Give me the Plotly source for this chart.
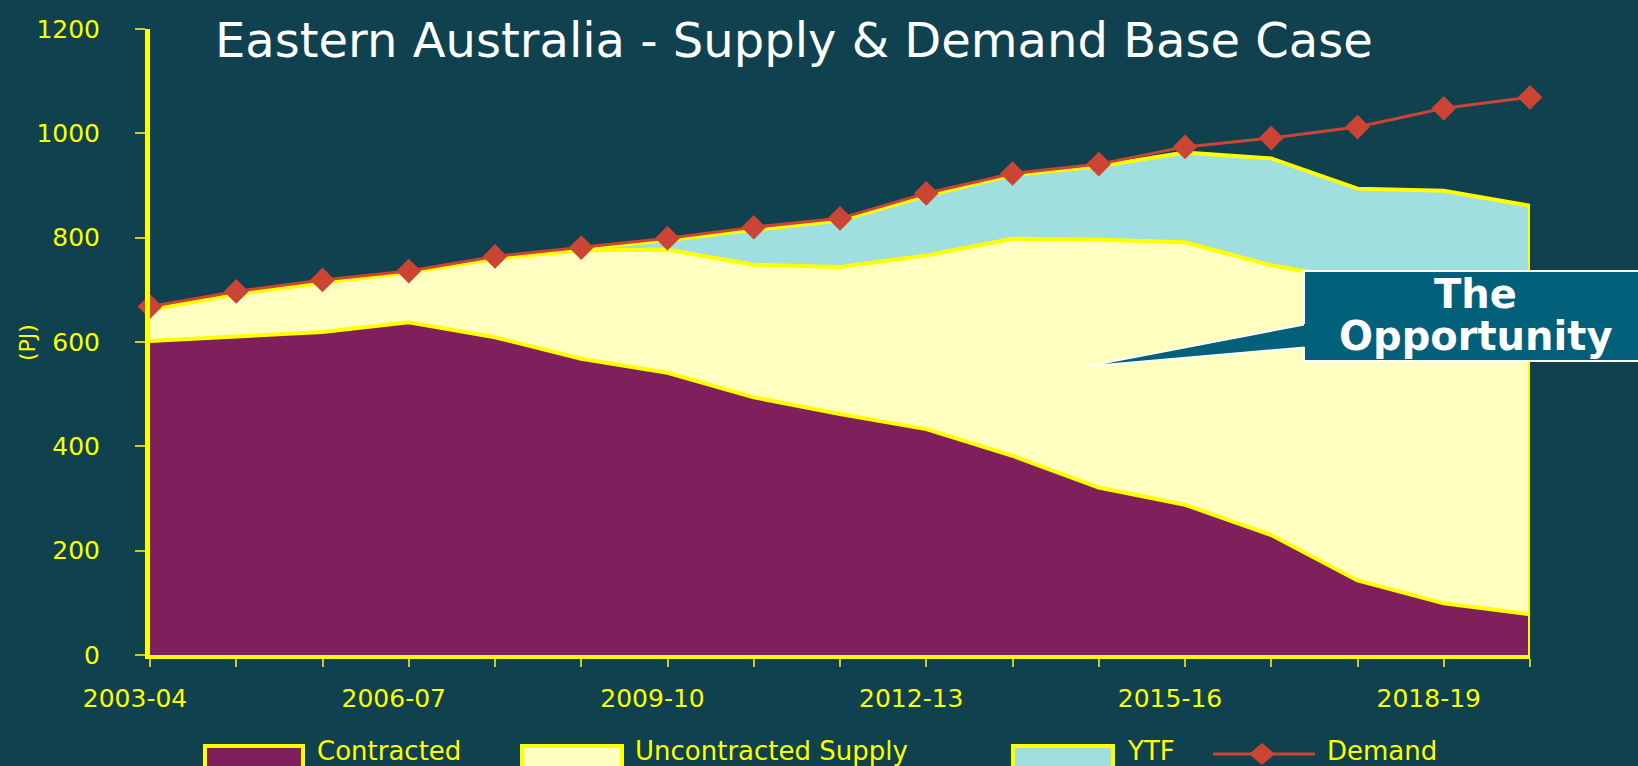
import plotly.graph_objects as go

# ---------------- data ----------------
categories = ["2003-04", "2004-05", "2005-06", "2006-07", "2007-08", "2008-09",
              "2009-10", "2010-11", "2011-12", "2012-13", "2013-14", "2014-15",
              "2015-16", "2016-17", "2017-18", "2018-19", "2019-20"]
contracted = [602, 611, 619, 638, 609, 568, 541, 494, 462, 433, 382, 321, 288, 230, 143, 99, 78]
uncontracted = [60, 81, 95, 95, 151, 208, 236, 254, 282, 333, 416, 475, 503, 517, 575, 591, 592]
ytf = [0, 0, 0, 0, 0, 3, 18, 67, 89, 114, 122, 141, 172, 205, 176, 200, 191]
demand = [668, 697, 719, 736, 764, 781, 799, 820, 837, 885, 923, 941, 974, 991, 1012, 1048, 1069]
x_labeled = ["2003-04", "2006-07", "2009-10", "2012-13", "2015-16", "2018-19"]
y_ticks = [0, 200, 400, 600, 800, 1000, 1200]
series_names = ["Contracted", "Uncontracted Supply", "YTF", "Demand"]

# ---------------- style ----------------
BG = "#0F414F"
YEL = "#FFFF00"
TICKC = "#C8C83A"
C_CON = "#7F1F5C"
C_UNC = "#FFFFC0"
C_YTF = "#A0DFE0"
C_DEM = "#CC4433"
BOX = "#03607A"
W, H = 1638, 766
L, R, T, B = 150, 108, 29, 111
PW, PH = W - L - R, H - T - B


def px(x):
    return (x - L) / PW


def py(y):
    return (H - B - y) / PH


fig = go.Figure()
for name, vals, col in [(series_names[0], contracted, C_CON),
                        (series_names[1], uncontracted, C_UNC),
                        (series_names[2], ytf, C_YTF)]:
    fig.add_trace(go.Scatter(x=categories, y=vals, name=name, mode="lines",
                             stackgroup="one", fillcolor=col,
                             line=dict(color=YEL, width=4), showlegend=False,
                             hoverinfo="skip"))

total_last = contracted[-1] + uncontracted[-1] + ytf[-1]
fig.add_trace(go.Scatter(x=[categories[-1], categories[-1]], y=[0, total_last],
                         mode="lines", line=dict(color=YEL, width=4),
                         showlegend=False, hoverinfo="skip"))

fig.add_trace(go.Scatter(x=categories, y=demand, name=series_names[3],
                         mode="lines+markers",
                         line=dict(color=C_DEM, width=3),
                         marker=dict(symbol="diamond", size=19, color=C_DEM),
                         showlegend=False, cliponaxis=False))

shapes = []
annotations = []

# callout box "The Opportunity"
bx0, by0, by1 = 1304, 271, 361
shapes.append(dict(type="path", xref="paper", yref="paper", layer="above",
                   path=f"M {px(bx0+4)},{py(324)} L {px(1089)},{py(366)} L {px(bx0+4)},{py(347)} Z",
                   fillcolor=BOX, line=dict(color="white", width=1.5)))
shapes.append(dict(type="rect", xref="paper", yref="paper", layer="above",
                   x0=px(bx0), x1=px(W + 5), y0=py(by1), y1=py(by0),
                   fillcolor=BOX, line=dict(width=0)))
shapes.append(dict(type="path", xref="paper", yref="paper", layer="above",
                   path=(f"M {px(W+5)},{py(by0)} L {px(bx0)},{py(by0)} L {px(bx0)},{py(324)} "
                         f"M {px(bx0)},{py(347)} L {px(bx0)},{py(by1)} L {px(W+5)},{py(by1)}"),
                   line=dict(color="white", width=2)))
annotations.append(dict(text="<b>The</b>", xref="paper", yref="paper",
                        x=px(1475), y=py(294), xanchor="center", yanchor="middle",
                        showarrow=False,
                        font=dict(family="DejaVu Sans", size=40, color="white")))
annotations.append(dict(text="<b>Opportunity</b>", xref="paper", yref="paper",
                        x=px(1475), y=py(336), xanchor="center", yanchor="middle",
                        showarrow=False,
                        font=dict(family="DejaVu Sans", size=40, color="white")))

# title
annotations.append(dict(text="Eastern Australia - Supply & Demand Base Case",
                        xref="paper", yref="paper", x=px(213), y=py(40),
                        xanchor="left", yanchor="middle", showarrow=False,
                        font=dict(family="DejaVu Sans", size=48, color="white")))

# y-axis title
annotations.append(dict(text="(PJ)", xref="paper", yref="paper", x=px(27), y=py(343),
                        xanchor="center", yanchor="middle", showarrow=False, textangle=-90,
                        font=dict(family="DejaVu Sans", size=22, color=YEL)))

# manual legend
sw_top, sw_bot = 746, 772
for x0, x1, col, tx, label in [(205, 303, C_CON, 315, series_names[0]),
                               (522, 622, C_UNC, 633, series_names[1]),
                               (1013, 1113, C_YTF, 1125, series_names[2])]:
    shapes.append(dict(type="rect", xref="paper", yref="paper", layer="above",
                       x0=px(x0), x1=px(x1), y0=py(sw_bot), y1=py(sw_top),
                       fillcolor=col, line=dict(color=YEL, width=4)))
    annotations.append(dict(text=label, xref="paper", yref="paper", x=px(tx), y=py(751),
                            xanchor="left", yanchor="middle", showarrow=False,
                            font=dict(family="DejaVu Sans", size=26, color=YEL)))
shapes.append(dict(type="line", xref="paper", yref="paper", layer="above",
                   x0=px(1213), x1=px(1315), y0=py(754), y1=py(754),
                   line=dict(color=C_DEM, width=3)))
shapes.append(dict(type="path", xref="paper", yref="paper", layer="above",
                   path=f"M {px(1249)},{py(754)} L {px(1262)},{py(743)} L {px(1275)},{py(754)} L {px(1262)},{py(765)} Z",
                   fillcolor=C_DEM, line=dict(width=0)))
annotations.append(dict(text=series_names[3], xref="paper", yref="paper", x=px(1325), y=py(751),
                        xanchor="left", yanchor="middle", showarrow=False,
                        font=dict(family="DejaVu Sans", size=26, color=YEL)))

fig.update_layout(
    width=W, height=H,
    margin=dict(l=L, r=R, t=T, b=B, pad=0),
    paper_bgcolor=BG, plot_bgcolor=BG,
    showlegend=False,
    shapes=shapes, annotations=annotations,
    xaxis=dict(type="category", range=[0, len(categories) - 1],
               tickvals=categories,
               ticktext=[c if c in x_labeled else "" for c in categories],
               showgrid=False, zeroline=False,
               showline=True, linecolor=YEL, linewidth=4,
               ticks="outside", ticklen=8, tickwidth=1.5, tickcolor=TICKC,
               ticklabelstandoff=10, ticklabelshift=-15,
               tickfont=dict(family="DejaVu Sans", size=25, color=YEL)),
    yaxis=dict(range=[0, 1200], tickvals=y_ticks,
               showgrid=False, zeroline=False,
               showline=True, linecolor=YEL, linewidth=5,
               ticks="outside", ticklen=10, tickwidth=1.5, tickcolor=TICKC,
               ticklabelstandoff=30,
               tickfont=dict(family="DejaVu Sans", size=25, color=YEL)),
)

fig.write_html("out.html", config={"displayModeBar": False},
               post_script="document.body.style.margin='0';document.body.style.overflow='hidden';")
